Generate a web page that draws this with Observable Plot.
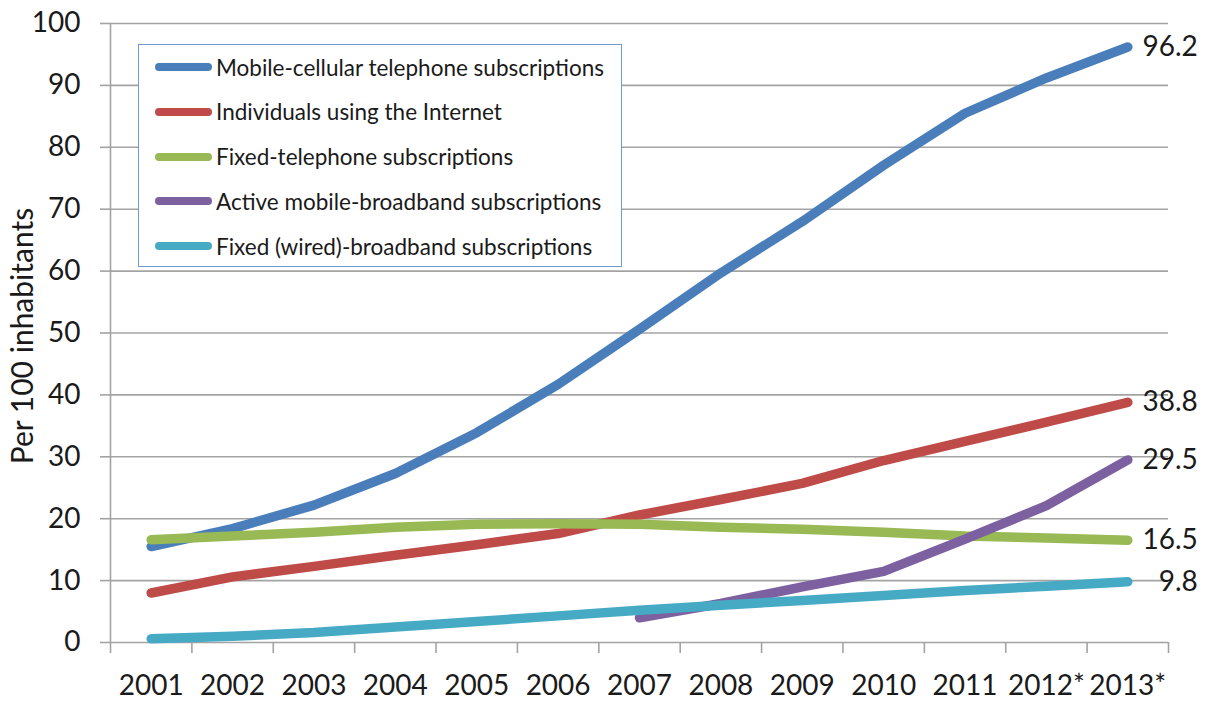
<!DOCTYPE html>
<html>
<head>
<meta charset="utf-8">
<script src="https://cdn.jsdelivr.net/npm/d3@7"></script>
<script src="https://cdn.jsdelivr.net/npm/@observablehq/plot@0.6"></script>
<style>
  body { margin: 0; background: #fff; }
  #wrap { position: relative; width: 1206px; height: 701px; font-family: Lato, "Open Sans", sans-serif; color: #1a1a1a; }
  #legend { position: absolute; left: 138px; top: 44px; width: 484px; height: 223px; box-sizing: border-box;
            border: 1.5px solid #6e9bd2; background: #fff; }
  .row { position: absolute; left: 16px; height: 30px; display: flex; align-items: center; }
  .sw { width: 57px; height: 8px; border-radius: 4px; margin-right: 4px; }
  .lab { font-size: 22.5px; white-space: nowrap; }
</style>
</head>
<body>
<div id="wrap"></div>
<script>
const years = ["2001","2002","2003","2004","2005","2006","2007","2008","2009","2010","2011","2012*","2013*"];
const seriesNames = [
  "Mobile-cellular telephone subscriptions",
  "Individuals using the Internet",
  "Fixed-telephone subscriptions",
  "Active mobile-broadband subscriptions",
  "Fixed (wired)-broadband subscriptions"
];
const seriesColors = ["#4a7ebb", "#be4b48", "#98b954", "#7d60a0", "#46aac5"];
const mobileCellular  = [15.5, 18.4, 22.2, 27.3, 33.9, 41.7, 50.6, 59.7, 68.0, 77.1, 85.5, 91.2, 96.2];
const internetUsers   = [8.0, 10.6, 12.3, 14.1, 15.8, 17.6, 20.6, 23.1, 25.7, 29.4, 32.5, 35.6, 38.8];
const fixedTelephone  = [16.6, 17.2, 17.8, 18.6, 19.1, 19.2, 19.1, 18.6, 18.3, 17.8, 17.2, 16.9, 16.5];
const mobileBroadband = [null, null, null, null, null, null, 4.0, 6.3, 9.0, 11.5, 16.7, 22.1, 29.5];
const fixedBroadband  = [0.6, 1.0, 1.6, 2.5, 3.4, 4.3, 5.2, 6.0, 6.8, 7.6, 8.4, 9.1, 9.8];
const yTicks = [0, 10, 20, 30, 40, 50, 60, 70, 80, 90, 100];
const yLabel = "Per 100 inhabitants";

const allSeries = [mobileCellular, internetUsers, fixedTelephone, mobileBroadband, fixedBroadband];
const table = [];
allSeries.forEach((vals, s) => vals.forEach((v, i) => table.push({i, v, s: seriesNames[s]})));
const lastRows = allSeries.map((vals, s) => ({i: vals.length - 1, v: vals[vals.length - 1], s: seriesNames[s]}));
const centers = d3.range(years.length);
const bounds = d3.range(years.length + 1).map(i => i - 0.5);

const grey = "#a3a3a3";
const chart = Plot.plot({
  width: 1206,
  height: 701,
  marginLeft: 110,
  marginRight: 38,
  marginTop: 23,
  marginBottom: 59,
  style: {fontFamily: "Lato, 'Open Sans', sans-serif", color: "#1a1a1a", background: "#fff"},
  x: {type: "linear", domain: [-0.5, years.length - 0.5]},
  y: {domain: [0, 100]},
  color: {domain: seriesNames, range: seriesColors},
  marks: [
    Plot.gridY(yTicks, {stroke: grey, strokeOpacity: 1, strokeWidth: 1.6}),
    Plot.ruleX([-0.5], {stroke: grey, strokeWidth: 1.6}),
    Plot.axisY(yTicks, {tickSize: 10, tickPadding: 20, fontSize: 28, stroke: grey, strokeWidth: 1.6, label: null}),
    Plot.text([yLabel], {frameAnchor: "left", textAnchor: "middle", rotate: -90, dx: -87, dy: 3, fontSize: 30, fill: "#1a1a1a"}),
    Plot.axisX(bounds, {tickSize: 11, tickFormat: () => "", stroke: grey, strokeWidth: 1.6, label: null}),
    Plot.axisX(centers, {tickSize: 0, tickPadding: 33, fontSize: 28, tickFormat: i => years[i], label: null}),
    Plot.line(table, {x: "i", y: "v", z: "s", stroke: "s", strokeWidth: 9.5, strokeLinecap: "round", strokeLinejoin: "round"}),
    Plot.text(lastRows, {x: "i", y: "v", text: d => d.v.toFixed(1), textAnchor: "end", dx: 70, fontSize: 28, fill: "#1a1a1a"})
  ]
});
const wrap = document.getElementById("wrap");
wrap.appendChild(chart);

const legend = document.createElement("div");
legend.id = "legend";
seriesNames.forEach((name, k) => {
  const row = document.createElement("div");
  row.className = "row";
  row.style.top = (7 + k * 44.8) + "px";
  const sw = document.createElement("div");
  sw.className = "sw";
  sw.style.background = seriesColors[k];
  const lab = document.createElement("span");
  lab.className = "lab";
  lab.textContent = name;
  row.appendChild(sw);
  row.appendChild(lab);
  legend.appendChild(row);
});
wrap.appendChild(legend);
</script>
</body>
</html>
